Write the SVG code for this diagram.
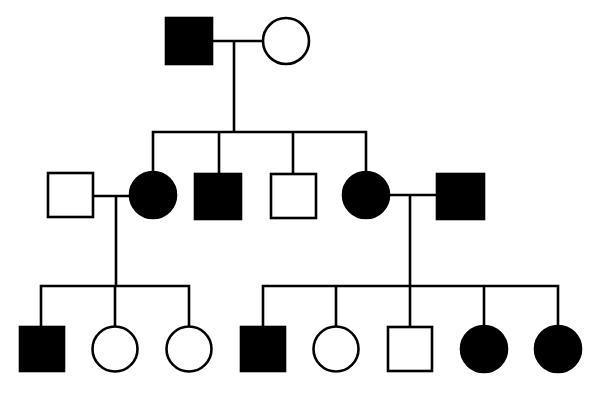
<svg xmlns="http://www.w3.org/2000/svg" width="597" height="400" viewBox="0 0 597 400">
<style>
.a{fill:#000;stroke:#000;stroke-width:2.6}
.u{fill:#fff;stroke:#000;stroke-width:2.6}
.l{fill:none;stroke:#000;stroke-width:2.6;stroke-linecap:square}
</style>
<rect width="597" height="400" fill="#fff"/>
<g id="connectors">
<path class="l" d="M212 41H263M234 41V132M153 132H366M153 132V172M219 132V174M293 132V174M366 132V172"/>
<path class="l" d="M93 196H130M116 196V286M41 286H189M41 286V327M115 286V327M189 286V327"/>
<path class="l" d="M389 195H437M410 195V286M263 286H558M263 286V327M336 286V327M410 286V327M484 286V327M558 286V327"/>
</g>
<g id="I1"><rect class="a" x="166" y="18" width="46" height="46"/></g>
<g id="I2"><circle class="u" cx="286" cy="41" r="23"/></g>
<g id="II1"><rect class="u" x="48" y="173" width="45" height="44"/></g>
<g id="II2"><circle class="a" cx="153" cy="195" r="23"/></g>
<g id="II3"><rect class="a" x="195" y="174" width="46" height="45"/></g>
<g id="II4"><rect class="u" x="271" y="174" width="45" height="44"/></g>
<g id="II5"><circle class="a" cx="366" cy="195" r="23"/></g>
<g id="II6"><rect class="a" x="437" y="174" width="47" height="45"/></g>
<g id="III1"><rect class="a" x="20" y="327" width="44" height="44"/></g>
<g id="III2"><circle class="u" cx="115" cy="349" r="22.5"/></g>
<g id="III3"><circle class="u" cx="189" cy="349" r="22.5"/></g>
<g id="III4"><rect class="a" x="241" y="327" width="44" height="44"/></g>
<g id="III5"><circle class="u" cx="336" cy="349" r="22.5"/></g>
<g id="III6"><rect class="u" x="388" y="327" width="44" height="44"/></g>
<g id="III7"><circle class="a" cx="484" cy="349" r="23"/></g>
<g id="III8"><circle class="a" cx="558" cy="349" r="23"/></g>
</svg>
